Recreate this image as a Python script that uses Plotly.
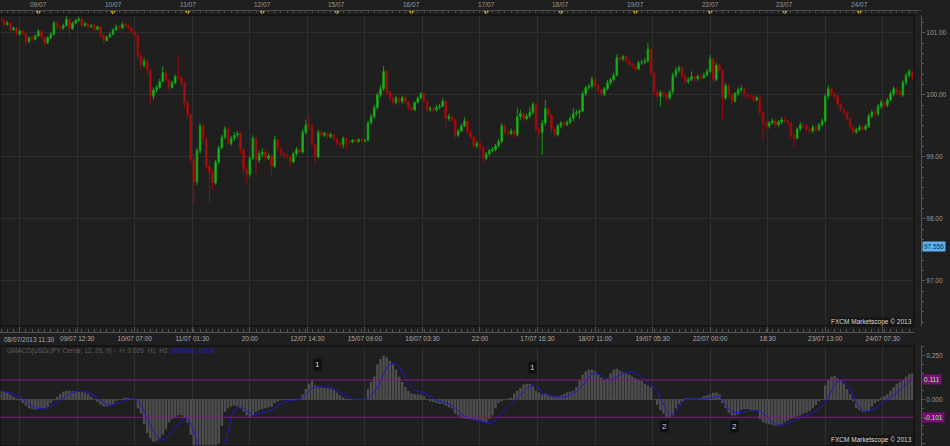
import plotly.graph_objects as go

# ---------------- data ----------------
start_hour = 12          # first candle: hour index from 08/07 00:00 (trading time, weekend removed)
first_open = 101.22

close = [
101.20,101.14,101.16,101.05,101.08,100.98,101.03,100.99,100.86,100.92,
100.90,100.95,101.03,100.93,100.84,100.92,100.98,101.16,101.10,101.08,
101.12,101.22,101.07,101.16,101.20,101.22,101.12,101.15,101.10,101.12,
101.06,101.10,100.96,100.88,100.94,100.98,101.05,101.10,101.08,101.14,
101.12,101.08,101.02,100.96,100.62,100.48,100.54,100.40,99.98,100.08,
100.12,100.22,100.36,100.24,100.12,100.20,100.30,100.28,100.20,99.87,
99.68,98.95,98.60,99.10,99.50,99.28,98.85,98.75,98.58,98.92,
99.15,99.32,99.45,99.22,99.30,99.35,99.38,99.12,98.80,98.72,
98.98,99.30,98.95,99.05,99.08,98.98,99.02,98.85,99.28,99.12,
99.05,99.02,99.00,98.92,99.05,99.12,99.08,99.40,99.52,99.50,
99.20,99.00,99.40,99.35,99.38,99.33,99.36,99.30,99.22,99.20,
99.30,99.25,99.24,99.27,99.25,99.28,99.26,99.27,99.55,99.65,
99.80,100.00,100.10,100.38,100.05,99.95,99.88,99.95,99.90,99.96,
99.88,99.80,99.76,99.88,99.95,100.02,99.90,99.76,99.78,99.76,
99.80,99.82,99.90,99.62,99.65,99.60,99.35,99.42,99.50,99.58,
99.40,99.32,99.18,99.22,99.15,98.98,99.05,99.10,99.12,99.18,
99.25,99.50,99.40,99.38,99.42,99.36,99.65,99.70,99.62,99.66,
99.72,99.85,99.45,99.40,99.55,99.78,99.68,99.45,99.36,99.50,
99.55,99.52,99.56,99.62,99.70,99.72,99.74,100.02,100.12,100.14,
100.25,100.15,100.08,100.02,100.10,100.20,100.25,100.32,100.60,100.58,
100.62,100.55,100.50,100.46,100.42,100.52,100.53,100.55,100.74,100.35,
100.05,99.98,100.04,100.00,99.95,100.05,100.32,100.40,100.44,100.30,
100.22,100.25,100.30,100.26,100.30,100.28,100.32,100.38,100.58,100.25,
100.48,100.40,99.95,100.15,100.00,99.90,100.02,100.08,100.10,100.00,
99.98,99.98,99.92,99.96,99.72,99.55,99.50,99.55,99.58,99.52,
99.56,99.60,99.58,99.55,99.35,99.30,99.45,99.52,99.50,99.45,
99.42,99.48,99.44,99.52,99.58,99.98,100.10,100.02,99.98,99.85,
99.76,99.72,99.62,99.48,99.40,99.44,99.48,99.45,99.50,99.66,
99.72,99.70,99.82,99.88,99.84,99.92,100.02,100.10,100.05,100.00,
100.20,100.32,100.38,100.28]

high = [
101.26,101.23,101.19,101.18,101.11,101.10,101.06,101.05,101.01,100.95,
100.95,100.98,101.06,101.05,100.95,100.95,101.01,101.20,101.19,101.13,
101.15,101.27,101.24,101.18,101.23,101.26,101.24,101.18,101.17,101.14,
101.14,101.12,101.12,100.99,100.96,101.01,101.08,101.14,101.13,101.17,
101.17,101.15,101.10,101.04,100.98,100.68,100.60,100.58,100.42,100.12,
100.16,100.26,100.46,100.38,100.26,100.23,100.33,100.62,100.31,100.22,
99.92,99.70,99.05,99.15,99.55,99.54,99.32,98.95,98.80,98.95,
99.18,99.36,99.50,99.48,99.34,99.40,99.42,99.40,99.15,98.85,
99.02,99.35,99.33,99.10,99.14,99.11,99.06,99.05,99.34,99.30,
99.15,99.08,99.06,99.03,99.08,99.16,99.15,99.45,99.60,99.68,
99.53,99.24,99.44,99.43,99.41,99.40,99.39,99.38,99.32,99.26,
99.33,99.32,99.28,99.29,99.29,99.30,99.30,99.29,99.58,99.70,
99.84,100.04,100.16,100.46,100.40,100.08,99.99,99.99,99.98,99.99,
99.98,99.91,99.83,99.90,99.98,100.05,100.04,99.92,99.82,99.81,
99.84,99.86,99.95,99.92,99.70,99.68,99.63,99.45,99.54,99.64,
99.60,99.44,99.35,99.26,99.25,99.18,99.08,99.13,99.16,99.21,
99.29,99.55,99.53,99.44,99.46,99.45,99.80,99.76,99.72,99.70,
99.80,99.89,99.87,99.48,99.60,99.92,99.80,99.70,99.48,99.53,
99.58,99.58,99.59,99.66,99.79,99.76,99.77,100.06,100.15,100.18,
100.30,100.28,100.18,100.11,100.13,100.24,100.28,100.36,100.66,100.64,
100.65,100.64,100.58,100.53,100.49,100.55,100.57,100.60,100.84,100.76,
100.38,100.10,100.08,100.07,100.03,100.08,100.36,100.45,100.48,100.46,
100.34,100.28,100.38,100.33,100.33,100.34,100.36,100.42,100.65,100.60,
100.52,100.50,100.42,100.20,100.18,100.03,100.05,100.12,100.16,100.13,
100.04,100.02,100.01,99.99,99.99,99.75,99.58,99.58,99.62,99.61,
99.59,99.64,99.66,99.60,99.57,99.38,99.48,99.56,99.55,99.52,
99.48,99.52,99.51,99.55,99.62,100.02,100.16,100.12,100.05,100.00,
99.88,99.80,99.75,99.65,99.51,99.47,99.52,99.51,99.53,99.70,
99.76,99.76,99.85,99.92,99.90,99.95,100.06,100.14,100.13,100.08,
100.24,100.36,100.42,100.40]

low = [
101.17,101.11,101.12,101.02,101.03,100.95,100.96,100.96,100.80,100.84,
100.86,100.88,100.93,100.90,100.79,100.82,100.90,100.96,101.07,101.05,
101.05,101.10,100.95,101.05,101.14,101.18,101.09,101.10,101.07,101.08,
101.03,101.04,100.93,100.82,100.86,100.92,100.96,101.03,101.04,101.06,
101.08,101.05,100.99,100.93,100.58,100.40,100.44,100.30,99.85,99.92,
100.04,100.10,100.20,100.20,100.06,100.10,100.17,100.24,100.14,99.80,
99.62,98.90,98.23,98.55,99.05,99.20,98.80,98.26,98.48,98.55,
98.88,99.12,99.28,99.18,99.18,99.26,99.30,99.05,98.72,98.58,
98.68,98.95,98.72,98.90,99.00,98.94,98.95,98.68,98.82,99.08,
99.00,98.97,98.96,98.85,98.90,99.02,99.04,99.05,99.36,99.44,
99.16,98.88,98.98,99.31,99.32,99.29,99.30,99.26,99.18,99.15,
99.14,99.12,99.21,99.22,99.23,99.23,99.24,99.24,99.25,99.52,
99.62,99.76,99.96,100.06,100.00,99.90,99.83,99.85,99.85,99.86,
99.85,99.76,99.72,99.74,99.86,99.93,99.87,99.72,99.73,99.72,
99.73,99.77,99.80,99.50,99.58,99.55,99.30,99.32,99.40,99.48,
99.36,99.28,99.14,99.14,99.10,98.90,98.95,99.02,99.07,99.09,
99.15,99.22,99.36,99.32,99.35,99.30,99.33,99.60,99.58,99.59,
99.62,99.68,99.40,99.30,99.04,99.50,99.64,99.40,99.32,99.33,
99.46,99.48,99.50,99.53,99.58,99.66,99.62,99.72,99.98,100.08,
100.10,100.12,100.04,99.98,99.98,100.07,100.16,100.22,100.30,100.54,
100.55,100.52,100.46,100.42,100.38,100.40,100.48,100.50,100.52,100.30,
100.00,99.90,99.82,99.96,99.90,99.92,100.02,100.28,100.36,100.26,
100.18,100.18,100.22,100.22,100.23,100.24,100.26,100.30,100.35,100.20,
100.22,100.36,99.60,99.92,99.96,99.86,99.88,99.98,100.04,99.96,
99.94,99.94,99.88,99.90,99.68,99.28,99.44,99.46,99.52,99.48,
99.49,99.53,99.55,99.50,99.30,99.15,99.28,99.42,99.46,99.40,
99.38,99.39,99.40,99.41,99.49,99.55,99.94,99.98,99.94,99.80,
99.72,99.68,99.58,99.44,99.36,99.37,99.41,99.41,99.42,99.47,
99.62,99.64,99.66,99.78,99.80,99.80,99.89,99.98,100.01,99.96,
99.97,100.16,100.28,100.24]

macd = [
0.050,0.045,0.038,0.028,0.015,0.005,-0.005,-0.020,-0.035,-0.050,
-0.055,-0.058,-0.055,-0.050,-0.048,-0.040,-0.020,-0.005,0.015,0.030,
0.045,0.050,0.050,0.048,0.046,0.045,0.042,0.038,0.030,0.015,
0.000,-0.015,-0.030,-0.040,-0.040,-0.035,-0.025,-0.010,0.000,0.005,
0.010,0.010,0.005,0.000,-0.050,-0.080,-0.140,-0.190,-0.220,-0.240,
-0.235,-0.220,-0.200,-0.170,-0.130,-0.110,-0.100,-0.090,-0.090,-0.100,
-0.130,-0.200,-0.280,-0.320,-0.330,-0.330,-0.330,-0.340,-0.340,-0.300,
-0.250,-0.150,-0.070,-0.050,-0.040,-0.035,-0.040,-0.050,-0.070,-0.090,
-0.100,-0.090,-0.070,-0.060,-0.055,-0.050,-0.045,-0.040,-0.020,-0.010,
-0.005,0.000,0.000,0.000,0.002,0.005,0.005,0.030,0.060,0.090,
0.108,0.080,0.070,0.068,0.066,0.065,0.062,0.055,0.040,0.025,
0.012,0.004,0.000,0.000,0.000,0.000,0.002,0.005,0.060,0.100,
0.130,0.200,0.230,0.250,0.240,0.220,0.200,0.170,0.130,0.100,
0.070,0.050,0.035,0.030,0.030,0.028,0.020,0.000,-0.010,-0.015,
-0.020,-0.025,-0.025,-0.035,-0.045,-0.050,-0.080,-0.090,-0.100,-0.110,
-0.110,-0.112,-0.115,-0.120,-0.120,-0.125,-0.130,-0.110,-0.090,-0.050,
-0.020,-0.010,0.000,0.005,0.010,0.035,0.050,0.065,0.085,0.090,
0.090,0.075,0.050,0.040,0.030,0.035,0.025,0.020,0.015,0.020,
0.025,0.030,0.040,0.045,0.050,0.070,0.110,0.140,0.160,0.170,
0.170,0.160,0.140,0.125,0.110,0.120,0.150,0.170,0.175,0.165,
0.155,0.150,0.140,0.130,0.120,0.110,0.105,0.090,0.080,0.070,
0.000,-0.030,-0.060,-0.080,-0.100,-0.105,-0.090,-0.050,-0.025,-0.010,
0.005,0.008,0.005,0.005,0.004,0.010,0.020,0.025,0.030,0.038,
0.040,0.030,-0.020,-0.050,-0.075,-0.090,-0.090,-0.085,-0.060,-0.055,
-0.055,-0.060,-0.060,-0.060,-0.110,-0.130,-0.135,-0.140,-0.145,-0.150,
-0.145,-0.140,-0.130,-0.120,-0.110,-0.105,-0.095,-0.090,-0.080,-0.075,
-0.065,-0.050,-0.030,-0.010,0.000,0.080,0.110,0.130,0.135,0.120,
0.110,0.090,0.060,0.030,-0.010,-0.050,-0.060,-0.070,-0.070,-0.065,
-0.040,-0.020,-0.010,0.010,0.020,0.030,0.050,0.070,0.090,0.100,
0.110,0.130,0.145,0.150]

signal = [
0.047,0.045,0.042,0.038,0.030,0.022,0.015,0.005,-0.010,-0.025,
-0.038,-0.048,-0.052,-0.053,-0.052,-0.048,-0.040,-0.030,-0.018,-0.005,
0.010,0.022,0.032,0.040,0.045,0.046,0.046,0.044,0.040,0.032,
0.022,0.010,-0.005,-0.020,-0.030,-0.032,-0.030,-0.025,-0.018,-0.010,
-0.002,0.003,0.005,0.004,-0.010,-0.030,-0.070,-0.110,-0.150,-0.180,
-0.210,-0.230,-0.230,-0.220,-0.200,-0.180,-0.160,-0.140,-0.120,-0.105,
-0.110,-0.140,-0.180,-0.240,-0.280,-0.310,-0.330,-0.340,-0.350,-0.350,
-0.340,-0.310,-0.270,-0.180,-0.100,-0.060,-0.045,-0.040,-0.050,-0.065,
-0.080,-0.090,-0.085,-0.080,-0.075,-0.070,-0.065,-0.060,-0.050,-0.035,
-0.025,-0.015,-0.008,-0.005,-0.005,-0.003,0.000,0.010,0.030,0.050,
0.064,0.070,0.074,0.076,0.076,0.074,0.070,0.062,0.052,0.040,
0.030,0.018,0.008,0.002,0.000,0.000,0.000,0.000,0.005,0.020,
0.040,0.070,0.110,0.145,0.180,0.200,0.206,0.205,0.190,0.160,
0.120,0.090,0.065,0.050,0.045,0.042,0.040,0.030,0.015,0.005,
-0.005,-0.010,-0.015,-0.020,-0.025,-0.035,-0.050,-0.065,-0.080,-0.095,
-0.100,-0.110,-0.112,-0.115,-0.120,-0.128,-0.130,-0.135,-0.132,-0.115,
-0.100,-0.080,-0.060,-0.040,-0.025,-0.010,0.005,0.020,0.040,0.060,
0.075,0.088,0.070,0.060,0.040,0.030,0.025,0.020,0.016,0.015,
0.014,0.015,0.018,0.025,0.035,0.045,0.060,0.080,0.100,0.130,
0.145,0.148,0.145,0.140,0.125,0.115,0.112,0.118,0.130,0.140,
0.148,0.150,0.155,0.155,0.150,0.140,0.130,0.110,0.098,0.080,
0.070,0.045,0.010,-0.025,-0.065,-0.085,-0.080,-0.065,-0.040,-0.015,
0.000,0.000,0.000,0.000,0.000,0.002,0.004,0.005,0.008,0.012,
0.016,0.017,0.000,-0.030,-0.055,-0.070,-0.074,-0.075,-0.074,-0.070,
-0.067,-0.066,-0.065,-0.064,-0.065,-0.080,-0.090,-0.110,-0.130,-0.140,
-0.148,-0.146,-0.140,-0.135,-0.128,-0.120,-0.110,-0.105,-0.100,-0.092,
-0.085,-0.075,-0.065,-0.050,-0.040,-0.020,0.020,0.050,0.080,0.105,
0.108,0.105,0.085,0.060,0.020,-0.020,-0.045,-0.062,-0.065,-0.066,
-0.060,-0.053,-0.045,-0.025,-0.010,0.005,0.015,0.025,0.040,0.050,
0.070,0.085,0.100,0.120]

day_start_hours = [24, 48, 72, 96, 120, 144, 168, 192, 216, 240, 264, 288]
day_labels = ["09/07", "10/07", "11/07", "12/07", "15/07", "16/07",
              "17/07", "18/07", "19/07", "22/07", "23/07", "24/07"]

time_tick_hours = [18, 36.5, 55, 73.5, 92, 110.5, 129, 147.5, 166, 184.5,
                   203, 221.5, 240, 258.5, 277, 295.5]
time_tick_labels = ["", "09/07 12:30", "10/07 07:00", "11/07 01:30", "20:00",
                    "12/07 14:30", "15/07 09:00", "16/07 03:30", "22:00",
                    "17/07 16:30", "18/07 11:00", "19/07 05:30", "22/07 00:00",
                    "18:30", "23/07 13:00", "24/07 07:30"]
first_time_label = "08/07/2013 11:30"

price_ticks = [97, 98, 99, 100, 101]
macd_ticks = [-0.25, 0.0, 0.25]
macd_levels = [0.111, -0.101]
marker_price = 97.556

mark_hours = [113.6, 183.0, 225.2, 247.7]
mark_values = [0.199, 0.182, -0.153, -0.151]
mark_labels = ["1", "1", "2", "2"]

header_text = "GMACD(USD/JPY Cerrar, 12, 26, 9) -  H: 0.026  H1  H2  "
header_signal = "SIGNAL: 0.034"
watermark = "FXCM Marketscope \u00a9 2013"

# ---------------- geometry helpers ----------------
W, H = 950, 446
PX_PER_HOUR = 3.11


def hx(px):
    return 48 + (px - 113) / PX_PER_HOUR


def pyp(ypx):
    return (H - ypx) / H


def pxp(xpx):
    return xpx / W


hours = [start_hour + i for i in range(len(close))]
opens = [first_open] + close[:-1]

FONT = "Liberation Sans, Arial, sans-serif"
BG = "#1f1f1f"
GRID = "#2f2f2f"
AXC = "#555555"
TXT = "#a0a0a0"

fig = go.Figure()

fig.add_trace(go.Candlestick(
    x=hours, open=opens, high=high, low=low, close=close,
    xaxis="x", yaxis="y",
    increasing=dict(line=dict(color="#12a012", width=1), fillcolor="#26c826"),
    decreasing=dict(line=dict(color="#960c0c", width=1), fillcolor="#b81414"),
    whiskerwidth=0, hoverinfo="skip", showlegend=False))

fig.add_trace(go.Bar(
    x=hours, y=macd, xaxis="x2", yaxis="y2",
    marker=dict(color="#4e4e4e", line=dict(width=0)),
    hoverinfo="skip", showlegend=False))

fig.add_trace(go.Scatter(
    x=hours, y=signal, xaxis="x2", yaxis="y2", mode="lines",
    line=dict(color="#1a1ad2", width=1), hoverinfo="skip", showlegend=False))

fig.add_trace(go.Scatter(
    x=day_start_hours, y=[11.8] * len(day_start_hours), xaxis="x3", yaxis="y3",
    mode="markers", marker=dict(symbol="triangle-down", size=6, color="#c99a12",
                                line=dict(width=0)),
    cliponaxis=False, hoverinfo="skip", showlegend=False))

x_range = [hx(0), hx(914)]

fig.update_layout(
    width=W, height=H,
    margin=dict(l=0, r=0, t=0, b=0),
    paper_bgcolor=BG, plot_bgcolor=BG,
    showlegend=False, hovermode=False,
    bargap=0.2,
    font=dict(family=FONT, size=6.5, color=TXT),
    xaxis=dict(
        domain=[0, pxp(914)], range=x_range, anchor="free", position=pyp(332),
        tickmode="array", tickvals=time_tick_hours, ticktext=time_tick_labels,
        ticks="inside", ticklen=6, tickcolor=AXC, tickwidth=1,
        showline=True, linecolor=AXC, linewidth=1,
        showgrid=True, gridcolor=GRID, gridwidth=1, zeroline=False,
        tickfont=dict(family=FONT, size=6.5, color="#aaaaaa"),
        minor=dict(dtick=2, tick0=0, ticks="inside", ticklen=3, tickcolor=AXC, showgrid=False),
        rangeslider=dict(visible=False), fixedrange=True),
    yaxis=dict(
        domain=[pyp(326), pyp(15)], range=[96.274, 101.29],
        side="right", anchor="free", position=pxp(921),
        tickmode="array", tickvals=price_ticks, ticktext=[f"{v:.2f}" for v in price_ticks],
        ticks="outside", ticklen=3, tickcolor=AXC, showline=True, linecolor=AXC,
        showgrid=True, gridcolor=GRID, zeroline=False,
        tickfont=dict(family=FONT, size=6.5, color="#9a9a9a"),
        minor=dict(dtick=1 / 6, tick0=0, ticks="outside", ticklen=2, tickcolor=AXC, showgrid=False),
        fixedrange=True),
    xaxis2=dict(
        domain=[0, pxp(914)], range=x_range, anchor="y2",
        tickmode="array", tickvals=time_tick_hours, showticklabels=False, ticks="",
        showgrid=True, gridcolor=GRID, zeroline=False, showline=False, fixedrange=True),
    yaxis2=dict(
        domain=[0, pyp(346)], range=[-0.264, 0.304],
        side="right", anchor="free", position=pxp(921),
        tickmode="array", tickvals=macd_ticks, ticktext=[f"{v:.3f}" for v in macd_ticks],
        ticks="outside", ticklen=3, tickcolor=AXC, showline=True, linecolor=AXC,
        showgrid=False, zeroline=True, zerolinecolor="#444444", zerolinewidth=1,
        tickfont=dict(family=FONT, size=6.5, color="#9a9a9a"),
        minor=dict(dtick=0.05, tick0=0, ticks="outside", ticklen=2, tickcolor=AXC, showgrid=False),
        fixedrange=True),
    xaxis3=dict(
        domain=[0, pxp(921)], range=[hx(0), hx(921)], anchor="free", position=pyp(9.5),
        tickmode="array", tickvals=day_start_hours, showticklabels=False,
        ticks="outside", ticklen=3, tickcolor="#4a4a4a",
        showline=True, linecolor="#4a4a4a", showgrid=False, zeroline=False,
        minor=dict(dtick=2, tick0=0, ticks="outside", ticklen=2, tickcolor="#4a4a4a", showgrid=False),
        fixedrange=True),
    yaxis3=dict(domain=[pyp(15), 1], range=[15, 0], visible=False, fixedrange=True),
)

shapes = []
# dark panel borders
shapes.append(dict(type="rect", xref="paper", yref="paper", x0=0, x1=pxp(914),
                   y0=pyp(326), y1=pyp(15), line=dict(color="#0b0b0b", width=1)))
shapes.append(dict(type="rect", xref="paper", yref="paper", x0=0, x1=pxp(914),
                   y0=0, y1=pyp(346), line=dict(color="#0b0b0b", width=1)))
for lv in macd_levels:
    shapes.append(dict(type="line", xref="x2 domain", yref="y2", x0=0, x1=1, y0=lv, y1=lv,
                       line=dict(color="#861a86", width=1)))
fig.update_layout(shapes=shapes)

ann = []
for h, lab in zip(day_start_hours, day_labels):
    ann.append(dict(x=h, xref="x", y=pyp(4.8), yref="paper", text=lab, showarrow=False,
                    font=dict(family=FONT, size=6.5, color="#9a9a9a"),
                    xanchor="center", yanchor="middle"))
ann.append(dict(x=pxp(2), xref="paper", y=pyp(339), yref="paper", text=first_time_label,
                showarrow=False, font=dict(family=FONT, size=6.5, color="#aaaaaa"),
                xanchor="left", yanchor="middle"))
ann.append(dict(x=pxp(5), xref="paper", y=pyp(350.5), yref="paper",
                text=header_text + f"<span style='color:#2020d0'>{header_signal}</span>",
                showarrow=False, font=dict(family=FONT, size=6.5, color="#5e5e5e"),
                xanchor="left", yanchor="middle"))
for yy in (322, 440):
    ann.append(dict(x=pxp(913), xref="paper", y=pyp(yy), yref="paper", text=watermark,
                    showarrow=False, font=dict(family=FONT, size=6.5, color="#dcdcdc"),
                    bgcolor="#151515", borderpad=0, xanchor="right", yanchor="middle"))
ann.append(dict(x=pxp(922), xref="paper", y=marker_price, yref="y", text=f"{marker_price:.3f}",
                showarrow=False, font=dict(family=FONT, size=6.5, color="#0c2a4c"),
                bgcolor="#5cb2f0", borderpad=1, xanchor="left", yanchor="middle"))
for lv in macd_levels:
    ann.append(dict(x=pxp(922), xref="paper", y=lv, yref="y2", text=f"{lv:.3f}",
                    showarrow=False, font=dict(family=FONT, size=6.5, color="#8cff6a"),
                    bgcolor="#7c0a7c", borderpad=1, xanchor="left", yanchor="middle"))
for h, v, lab in zip(mark_hours, mark_values, mark_labels):
    ann.append(dict(x=h, xref="x2", y=v, yref="y2", text=lab, showarrow=False,
                    font=dict(family=FONT, size=8, color="#d8d8d8"),
                    bgcolor="#0e0e0e", borderpad=1, xanchor="center", yanchor="middle"))
fig.update_layout(annotations=ann)

fig.write_html(
    "out.html",
    config={"displayModeBar": False, "staticPlot": True},
    post_script="document.body.style.margin='0';document.body.style.overflow='hidden';"
                "document.documentElement.style.overflow='hidden';")
